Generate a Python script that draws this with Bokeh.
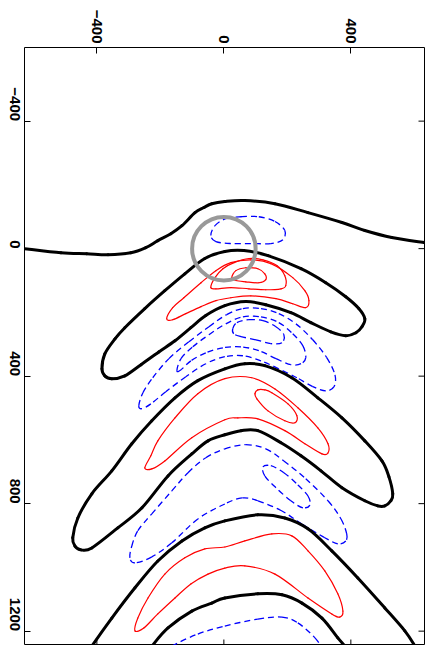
import math
from bokeh.plotting import figure
from bokeh.models import Range1d, FixedTicker
from bokeh.embed import file_html
from bokeh.resources import INLINE

# ---------------- axes ----------------
X_TICKS = [-400, 0, 400]
Y_TICKS = [-400, 0, 400, 800, 1200]
X_START, X_END = -628, 632
Y_TOP, Y_BOTTOM = -631, 1245

# ---------------- zero contours (black) ----------------
B1_X = [-628, -513, -432, -365, -293, -246, -208, -167, -132, -91, -63, -38, 3, 66, 161, 265, 372, 444, 529, 633]
B1_Y = [0, 13, 16, 19, 13, -3, -25, -47, -72, -113, -129, -141, -148, -151, -141, -113, -82, -57, -35, -19]

B2_X = [-384, -375, -343, -312, -249, -186, -123, -60, 3, 63, 139, 243, 321, 384, 425, 444,
        435, 416, 384, 337, 274, 211, 132, 69, 3, -57, -104, -154, -205, -261, -312, -353, -375, -384]
B2_Y = [377, 330, 283, 248, 188, 132, 79, 31, 9, 6, 22, 63, 107, 151, 188, 220,
        245, 264, 273, 261, 232, 201, 176, 166, 179, 210, 248, 289, 324, 364, 399, 408, 399, 377]

B3_X = [-476, -460, -416, -353, -290, -227, -154, -82, 3, 66, 129, 214, 296, 372, 444, 498, 520, 532, 526,
        507, 485, 444, 372, 306, 243, 180, 107, 54, 3, -50, -101, -176, -258, -334, -416, -450, -469, -476]
B3_Y = [907, 845, 769, 697, 612, 540, 468, 414, 377, 361, 367, 405, 468, 531, 603, 666, 716, 769, 791,
        807, 807, 791, 750, 697, 650, 609, 571, 571, 584, 603, 644, 713, 813, 876, 939, 945, 933, 907]

B4_X = [-430, -416, -353, -280, -208, -132, -60, 3, 107, 192, 265, 340, 422, 507, 570, 602, 615]
B4_Y = [1270, 1247, 1159, 1064, 980, 917, 876, 854, 835, 845, 879, 948, 1033, 1127, 1199, 1247, 1270]

B5_X = [-245, -227, -176, -101, -38, 3, 107, 183, 246, 309, 359, 381, 392]
B5_Y = [1270, 1247, 1190, 1137, 1112, 1096, 1083, 1086, 1112, 1159, 1221, 1247, 1270]

# ---------------- positive contours (red) ----------------
R1_X = [-180, -161, -126, -72, -25, 22, 85, 148, 217, 255, 268, 258, 217, 164, 85, 22, -25, -72, -120, -161, -180]
R1_Y = [220, 185, 154, 107, 69, 44, 35, 47, 91, 132, 163, 185, 173, 157, 148, 154, 163, 182, 204, 223, 220]

R2_X = [-41, -28, -3, 32, 79, 123, 167, 192, 195, 180, 132, 79, 22, -25, -41]
R2_Y = [122, 91, 63, 44, 31, 35, 53, 85, 116, 126, 129, 126, 122, 126, 122]

R3_X = [25, 38, 69, 107, 129, 132, 110, 69, 38, 25]
R3_Y = [91, 69, 60, 63, 79, 97, 107, 104, 100, 91]

R4_X = [-249, -230, -208, -154, -82, 3, 88, 161, 233, 296, 328, 328, 309, 255, 192, 107, 44, 3, -101, -186, -227, -249]
R4_Y = [688, 650, 603, 531, 455, 408, 405, 440, 499, 562, 612, 641, 644, 612, 571, 534, 531, 537, 593, 666, 691, 688]

R5_X = [98, 107, 129, 151, 202, 230, 224, 192, 139, 104, 98]
R5_Y = [455, 443, 443, 452, 487, 524, 546, 540, 509, 471, 455]

R6_X = [-280, -271, -239, -186, -123, -60, 3, 66, 151, 214, 265, 318, 359, 375, 365, 340, 265, 161, 66, 3, -50, -104, -154, -208, -252, -280]
R6_Y = [1199, 1159, 1096, 1021, 970, 942, 936, 917, 895, 901, 948, 1011, 1083, 1137, 1156, 1146, 1096, 1021, 995, 1002, 1021, 1052, 1096, 1146, 1190, 1199]

# ---------------- negative contours (blue, dashed) ----------------
D1_X = [-41, -28, 6, 54, 110, 161, 192, 186, 148, 85, 22, -25, -41]
D1_Y = [-41, -72, -94, -100, -100, -85, -57, -28, -16, -16, -16, -22, -41]

D2_X = [-268, -255, -224, -173, -110, -47, 9, 60, 117, 173, 227, 280, 324, 350, 347, 321, 280, 230, 173, 117, 60, 3, -57, -120, -183, -230, -258, -268]
D2_Y = [493, 452, 405, 345, 292, 245, 207, 188, 188, 204, 236, 286, 342, 396, 433, 446, 433, 405, 377, 352, 336, 339, 361, 402, 449, 487, 502, 493]

D3_X = [-148, -135, -98, -47, 6, 60, 117, 173, 217, 249, 258, 243, 211, 164, 110, 54, -3, -57, -104, -135, -148]
D3_Y = [383, 345, 308, 270, 236, 214, 214, 232, 267, 305, 342, 361, 364, 345, 320, 308, 311, 327, 352, 380, 383]

D4_X = [28, 41, 79, 123, 164, 189, 183, 148, 101, 54, 31, 28]
D4_Y = [251, 232, 223, 226, 245, 270, 295, 298, 286, 276, 267, 251]

D5_X = [-296, -290, -271, -227, -164, -113, -57, 3, 69, 132, 189, 258, 328, 369, 387, 384, 359, 318, 246, 183, 107, 57, 3, -82, -164, -227, -280, -296]
D5_Y = [970, 933, 885, 832, 760, 703, 656, 628, 615, 628, 666, 722, 791, 848, 895, 917, 926, 907, 864, 823, 791, 782, 801, 848, 923, 967, 986, 970]

D6_X = [123, 148, 189, 233, 265, 271, 249, 211, 164, 129, 123]
D6_Y = [685, 681, 703, 741, 776, 804, 813, 791, 750, 713, 685]

D7_X = [-200, -164, -82, 3, 107, 183, 233, 287, 315]
D7_Y = [1275, 1247, 1209, 1184, 1162, 1156, 1174, 1221, 1262]

# ---------------- marker circle ----------------
CIRCLE_X = [0]
CIRCLE_Y = [0]
CIRCLE_R = [100]

BLACK = [(B1_X, B1_Y), (B2_X, B2_Y), (B3_X, B3_Y), (B4_X, B4_Y), (B5_X, B5_Y)]
RED = [(R1_X, R1_Y), (R2_X, R2_Y), (R3_X, R3_Y), (R4_X, R4_Y), (R5_X, R5_Y), (R6_X, R6_Y)]
BLUE = [(D1_X, D1_Y), (D2_X, D2_Y), (D3_X, D3_Y), (D4_X, D4_Y), (D5_X, D5_Y), (D6_X, D6_Y), (D7_X, D7_Y)]


def smooth_segments(curves):
    """Catmull-Rom curve through the traced points, as cubic Bezier pieces."""
    out = {k: [] for k in ("x0", "y0", "x1", "y1", "cx0", "cy0", "cx1", "cy1")}
    for xs, ys in curves:
        closed = xs[0] == xs[-1] and ys[0] == ys[-1]
        if closed:
            px, py = xs[:-1], ys[:-1]
        else:
            px, py = xs, ys
        n = len(px)

        def idx(i):
            return i % n if closed else min(max(i, 0), n - 1)

        for i in range(n if closed else n - 1):
            a, b, c, d = idx(i - 1), idx(i), idx(i + 1), idx(i + 2)
            out["x0"].append(px[b]); out["y0"].append(py[b])
            out["x1"].append(px[c]); out["y1"].append(py[c])
            out["cx0"].append(px[b] + (px[c] - px[a]) / 6.0)
            out["cy0"].append(py[b] + (py[c] - py[a]) / 6.0)
            out["cx1"].append(px[c] - (px[d] - px[b]) / 6.0)
            out["cy1"].append(py[c] - (py[d] - py[b]) / 6.0)
    return out


p = figure(width=431, height=645,
           x_range=Range1d(X_START, X_END), y_range=Range1d(Y_BOTTOM, Y_TOP),
           x_axis_location="above", y_axis_location="left",
           output_backend="svg", toolbar_location=None,
           min_border_left=24, min_border_top=47, min_border_right=7, min_border_bottom=0)

p.background_fill_color = "white"
p.border_fill_color = "white"
p.outline_line_color = "black"
p.outline_line_width = 1
p.xgrid.visible = False
p.ygrid.visible = False


def style_axis(ax, ticks, standoff):
    ax.ticker = FixedTicker(ticks=ticks)
    ax.major_tick_in = 6
    ax.major_tick_out = 0
    ax.minor_tick_in = 0
    ax.minor_tick_out = 0
    ax.major_tick_line_color = "black"
    ax.major_tick_line_width = 1
    ax.axis_line_color = None
    ax.major_label_orientation = -math.pi / 2
    ax.major_label_text_font = "Liberation Sans"
    ax.major_label_text_font_style = "bold"
    ax.major_label_text_font_size = "15px"
    ax.major_label_text_color = "black"
    ax.major_label_standoff = standoff
    ax.major_label_overrides = {t: (str(t).replace("-", "\u2212")) for t in ticks}


style_axis(p.xaxis[0], X_TICKS, 4)
style_axis(p.yaxis[0], Y_TICKS, 10)

p.bezier(**smooth_segments(BLUE), line_color="#0000ff", line_width=1.3, line_dash="6 4")
p.bezier(**smooth_segments(RED), line_color="#ff0000", line_width=1.2, line_cap="round")
p.bezier(**smooth_segments(BLACK), line_color="black", line_width=3, line_cap="round")
p.circle(x=CIRCLE_X, y=CIRCLE_Y, radius=CIRCLE_R, fill_color=None, line_color="#999999", line_width=4)

# tick marks on the right and bottom frame edges (no labels there)
p.scatter(x=[X_END] * len(Y_TICKS), y=Y_TICKS, marker="dash", size=12, line_color="black", line_width=1)
p.scatter(x=X_TICKS, y=[Y_BOTTOM] * len(X_TICKS), marker="dash", size=12, angle=math.pi / 2,
          line_color="black", line_width=1)

open("out.html", "w").write(file_html(p, INLINE))
